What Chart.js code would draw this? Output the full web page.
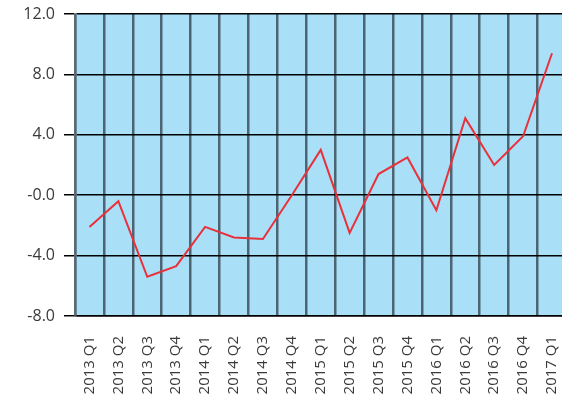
<!DOCTYPE html>
<html>
<head>
<meta charset="utf-8">
<script src="https://cdn.jsdelivr.net/npm/chart.js@4"></script>
<style>
  html, body { margin: 0; padding: 0; background: #ffffff; overflow: hidden; width: 562px; height: 404px; }
  #wrap { width: 590px; height: 404px; }
</style>
</head>
<body>
<div id="wrap"><canvas id="c" width="590" height="404"></canvas></div>
<script>
const categories = ["2013 Q1","2013 Q2","2013 Q3","2013 Q4","2014 Q1","2014 Q2","2014 Q3","2014 Q4","2015 Q1","2015 Q2","2015 Q3","2015 Q4","2016 Q1","2016 Q2","2016 Q3","2016 Q4","2017 Q1"];
const seriesValues = [-2.1, -0.4, -5.4, -4.7, -2.1, -2.8, -2.9, 0.0, 3.0, -2.5, 1.4, 2.5, -1.0, 5.1, 2.0, 3.9, 9.4];
const yTickValues = [-8, -4, 0, 4, 8, 12];
const yTickLabels = ["-8.0", "-4.0", "-0.0", "4.0", "8.0", "12.0"];

const plotBg = {
  id: 'plotBg',
  beforeDraw(chart) {
    const a = chart.chartArea, ctx = chart.ctx;
    ctx.save();
    ctx.fillStyle = '#aadff8';
    ctx.fillRect(a.left, a.top, a.right - a.left, a.bottom - a.top);
    ctx.restore();
  }
};

new Chart(document.getElementById('c'), {
  type: 'line',
  data: {
    labels: categories,
    datasets: [{
      data: seriesValues,
      borderColor: '#e8313a',
      borderWidth: 2,
      pointRadius: 0,
      tension: 0,
      fill: false
    }]
  },
  options: {
    responsive: false,
    animation: false,
    layout: { padding: { top: 14, right: 0, left: 0, bottom: 0 } },
    plugins: { legend: { display: false }, tooltip: { enabled: false } },
    scales: {
      x: {
        offset: true,
        grid: { offset: true, color: 'rgba(45,60,70,0.75)', lineWidth: 2.5, drawTicks: false },
        border: { display: true, color: '#000000', width: 1.5 },
        ticks: {
          autoSkip: false, maxRotation: 90, minRotation: 90, padding: 20,
          color: '#3a3a3a', font: { family: 'Open Sans', size: 15 }
        },
        afterFit(s) { s.height = 88; }
      },
      y: {
        min: -8, max: 12,
        afterBuildTicks(s) { s.ticks = yTickValues.map(v => ({ value: v })); },
        grid: { color: '#000000', lineWidth: 1.5, tickLength: 11, tickColor: '#000000' },
        border: { display: true, color: 'rgba(90,105,115,0.8)', width: 2.5 },
        ticks: {
          padding: 9,
          color: '#3a3a3a', font: { family: 'Open Sans', size: 16 },
          callback(v, i) { return yTickLabels[yTickValues.indexOf(v)]; }
        },
        afterFit(s) { s.width = 75; s.paddingTop = 0; s.paddingBottom = 0; }
      }
    }
  },
  plugins: [plotBg]
});
</script>
</body>
</html>
